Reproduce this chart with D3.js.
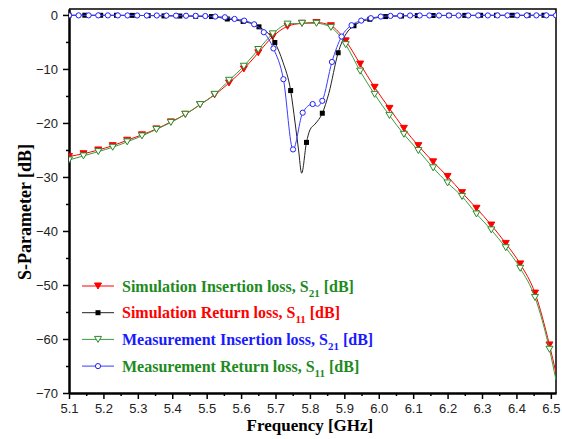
<!DOCTYPE html>
<html>
<head>
<meta charset="utf-8">
<script src="https://cdn.jsdelivr.net/npm/d3@7"></script>
<style>
  body { margin: 0; background: #fff; }
  svg { display: block; }
</style>
</head>
<body>
<div id="chart"></div>
<script>
// S21 (insertion loss) sampled on the marker grid, last point is the right edge
var s21Freq = [5.100, 5.142, 5.185, 5.227, 5.269, 5.312, 5.354, 5.396, 5.438, 5.481,
               5.523, 5.565, 5.608, 5.650, 5.692, 5.735, 5.777, 5.819, 5.861, 5.904,
               5.946, 5.988, 6.031, 6.073, 6.115, 6.158, 6.200, 6.242, 6.284, 6.327,
               6.369, 6.411, 6.454, 6.496, 6.515];
var s21Mark = [1,1,1,1,1,1,1,1,1,1, 1,1,1,1,1,1,1,1,1,1, 1,1,1,1,1,1,1,1,1,1, 1,1,1,1,0];
var simS21 = [-26.2, -25.7, -25.0, -24.2, -23.2, -22.2, -21.1, -19.8, -18.4, -16.6,
              -14.8, -12.6, -10.0, -7.0, -4.0, -2.1, -1.55, -1.4, -2.0, -4.8,
              -9.1, -13.4, -17.3, -21.0, -24.2, -27.2, -29.9, -32.9, -35.8, -38.9,
              -42.3, -46.1, -51.5, -61.1, -66.3];
var measS21 = [-26.85, -26.1, -25.3, -24.5, -23.5, -22.4, -21.2, -19.9, -18.4, -16.6,
               -14.7, -12.1, -9.5, -6.4, -3.5, -1.7, -1.55, -1.55, -2.3, -5.5,
               -10.4, -14.7, -18.6, -22.1, -25.1, -28.3, -31.1, -33.6, -36.85, -39.8,
               -43.1, -46.9, -52.3, -61.9, -67.6];

// simulated S11
var simS11Freq = [5.100, 5.146, 5.192, 5.238, 5.284, 5.330, 5.376, 5.422, 5.468, 5.514,
                  5.560, 5.606, 5.652, 5.698, 5.722, 5.744, 5.757, 5.767, 5.776, 5.790,
                  5.800, 5.815, 5.836, 5.855, 5.882, 5.905, 5.928, 5.974, 6.020, 6.066,
                  6.112, 6.158, 6.204, 6.250, 6.296, 6.342, 6.388, 6.434, 6.480, 6.515];
var simS11Mark = [1,1,1,1,1,1,1,1,1,1, 1,1,1,1,0,1,0,0,0,1,
                  0,0,1,0,1,0,1,1,1,1, 1,1,1,1,1,1,1,1,1,0];
var simS11 = [-0.05, -0.05, -0.06, -0.06, -0.08, -0.12, -0.18, -0.2, -0.25, -0.3,
              -0.75, -1.2, -2.2, -5.1, -8.8, -14.0, -20.0, -25.0, -29.3, -23.6,
              -21.3, -20.2, -18.2, -14.5, -7.0, -3.5, -2.0, -0.8, -0.3, -0.2,
              -0.12, -0.1, -0.08, -0.08, -0.06, -0.06, -0.06, -0.06, -0.06, -0.05];

// measured S11
var measS11Freq = [5.100, 5.128, 5.157, 5.185, 5.213, 5.242, 5.270, 5.298, 5.326, 5.355,
                   5.383, 5.411, 5.440, 5.468, 5.496, 5.525, 5.553, 5.581, 5.609, 5.638,
                   5.666, 5.694, 5.723, 5.751, 5.779, 5.808, 5.822, 5.836, 5.864, 5.892,
                   5.921, 5.949, 5.977, 6.006, 6.034, 6.062, 6.091, 6.119, 6.147, 6.175,
                   6.204, 6.232, 6.260, 6.289, 6.317, 6.345, 6.374, 6.402, 6.430, 6.458,
                   6.487, 6.515];
var measS11Mark = [1,1,1,1,1,1,1,1,1,1, 1,1,1,1,1,1,1,1,1,1, 1,1,1,1,1,1,0,1,1,1,
                   1,1,1,1,1,1,1,1,1,1, 1,1,1,1,1,1,1,1,1,1, 1,1];
var measS11 = [-0.08, -0.08, -0.08, -0.08, -0.08, -0.09, -0.09, -0.1, -0.1, -0.1,
               -0.12, -0.13, -0.15, -0.17, -0.2, -0.3, -0.43, -0.74, -1.05, -1.73,
               -3.2, -6.2, -11.9, -24.9, -18.1, -16.5, -16.9, -15.9, -8.7, -4.0,
               -1.9, -1.05, -0.6, -0.3, -0.18, -0.12, -0.1, -0.1, -0.1, -0.1,
               -0.1, -0.1, -0.1, -0.09, -0.09, -0.09, -0.08, -0.08, -0.08, -0.08,
               -0.08, -0.08];

var xTicks = [5.1, 5.2, 5.3, 5.4, 5.5, 5.6, 5.7, 5.8, 5.9, 6.0, 6.1, 6.2, 6.3, 6.4, 6.5];
var yTicks = [0, -10, -20, -30, -40, -50, -60, -70];

var legendText = ["Simulation Insertion loss, S", "Simulation Return loss, S",
                  "Measurement Insertion loss, S", "Measurement Return loss, S"];
var legendSub = ["21", "11", "21", "11"];

(function () {
    var W = 562, H = 439;
    var margin = {top: 9, right: 6, bottom: 46, left: 69},
        width = W - margin.left - margin.right,
        height = H - margin.top - margin.bottom;

    var svg = d3.select("#chart").append("svg")
        .attr("width", W)
        .attr("height", H);
    var g = svg.append("g")
        .attr("transform", "translate(" + margin.left + "," + margin.top + ")");

    var x = d3.scaleLinear().domain([5.1, 6.515]).range([0, width]),
        y = d3.scaleLinear().domain([-70, 1.1]).range([height, 0]);

    g.append("clipPath").attr("id", "clip")
        .append("rect").attr("width", width).attr("height", height);

    // axes, outward ticks with minor ticks in between
    var minorX = xTicks.slice(0, -1).map(d => d + 0.05);
    var minorY = yTicks.slice(0, -1).map(d => d - 5);

    function styleAxis(sel) {
        sel.select(".domain").attr("stroke", "#000").attr("stroke-width", 2);
        sel.selectAll(".tick line").attr("stroke", "#000").attr("stroke-width", 1.5);
        sel.selectAll("text").attr("fill", "#222")
            .style("font-family", "'Liberation Sans', Arial, sans-serif")
            .style("font-size", "13px");
    }

    g.append("g")
        .attr("transform", "translate(0," + height + ")")
        .call(d3.axisBottom(x).tickValues(minorX).tickSize(3).tickFormat("").tickSizeOuter(0))
        .call(styleAxis);
    g.append("g")
        .attr("transform", "translate(0," + height + ")")
        .call(d3.axisBottom(x).tickValues(xTicks).tickSize(6).tickPadding(5)
            .tickFormat(d3.format(".1f")).tickSizeOuter(0))
        .call(styleAxis);

    g.append("g")
        .call(d3.axisLeft(y).tickValues(minorY).tickSize(3).tickFormat("").tickSizeOuter(0))
        .call(styleAxis);
    g.append("g")
        .call(d3.axisLeft(y).tickValues(yTicks).tickSize(6).tickPadding(5)
            .tickFormat(d3.format("d")).tickSizeOuter(0))
        .call(styleAxis);

    // top and right frame
    g.append("path")
        .attr("d", "M0,0H" + width + "V" + height)
        .attr("fill", "none").attr("stroke", "#000").attr("stroke-width", 1.5);

    var series = [
        {f: s21Freq, v: simS21, m: s21Mark, color: "#ff0000", marker: "tri", fill: "#ff0000"},
        {f: simS11Freq, v: simS11, m: simS11Mark, color: "#222222", marker: "sq", fill: "#000"},
        {f: s21Freq, v: measS21, m: s21Mark, color: "#3c9c3c", marker: "tri", fill: "#fff"},
        {f: measS11Freq, v: measS11, m: measS11Mark, color: "#3b3bff", marker: "circ", fill: "#fff"}
    ];
    var markColor = ["#ff0000", "#000", "#2a8a2a", "#2020ff"];

    var line = d3.line()
        .curve(d3.curveMonotoneX)
        .x(d => x(d[0]))
        .y(d => y(d[1]));

    function drawMarker(sel, type, color, fill) {
        if (type === "tri") {
            sel.append("path").attr("d", "M-3.5,-3L3.5,-3L0,3Z")
                .attr("fill", fill).attr("stroke", color).attr("stroke-width", 1);
        } else if (type === "sq") {
            sel.append("rect").attr("x", -2.5).attr("y", -2.5)
                .attr("width", 5).attr("height", 5).attr("fill", fill);
        } else {
            sel.append("circle").attr("r", 2.6)
                .attr("fill", fill).attr("stroke", color).attr("stroke-width", 1);
        }
    }

    var plot = g.append("g").attr("clip-path", "url(#clip)");
    series.forEach(function (s, si) {
        var pts = s.f.map((f, i) => [f, s.v[i], s.m[i]]);
        plot.append("path")
            .attr("d", line(pts))
            .attr("fill", "none")
            .attr("stroke", s.color)
            .attr("stroke-width", 1);
        plot.selectAll(".mk" + si)
            .data(pts.filter(p => p[2]))
            .enter().append("g")
            .attr("class", "mk" + si)
            .attr("transform", d => "translate(" + x(d[0]) + "," + y(d[1]) + ")")
            .each(function () { drawMarker(d3.select(this), s.marker, markColor[si], s.fill); });
    });

    // legend
    var textColor = ["#1e8a1e", "#ff0000", "#1a1aff", "#1e8a1e"];
    var leg = svg.append("g").attr("transform", "translate(82,286)");
    legendText.forEach(function (t, i) {
        var row = leg.append("g").attr("transform", "translate(0," + (i * 26.7) + ")");
        row.append("line").attr("x1", 0).attr("x2", 32)
            .attr("stroke", series[i].color).attr("stroke-width", 1);
        var mk = row.append("g").attr("transform", "translate(16,0)");
        drawMarker(mk, series[i].marker, markColor[i], series[i].fill);
        var txt = row.append("text")
            .attr("x", 40).attr("y", 5.5)
            .attr("fill", textColor[i])
            .style("font-family", "'Liberation Serif', 'Times New Roman', serif")
            .style("font-weight", "bold")
            .style("font-size", "16px");
        txt.append("tspan").text(t);
        txt.append("tspan").attr("dy", 5).style("font-size", "11px").text(legendSub[i]);
        txt.append("tspan").attr("dy", -5).text(" [dB]");
    });

    // axis titles
    svg.append("text")
        .attr("x", margin.left + x(5.8)).attr("y", 431)
        .attr("text-anchor", "middle")
        .style("font-family", "'Liberation Serif', 'Times New Roman', serif")
        .style("font-weight", "bold").style("font-size", "17px")
        .text("Frequency [GHz]");
    svg.append("text")
        .attr("transform", "translate(31,212) rotate(-90)")
        .attr("text-anchor", "middle")
        .style("font-family", "'Liberation Serif', 'Times New Roman', serif")
        .style("font-weight", "bold").style("font-size", "18px")
        .text("S-Parameter [dB]");
})();
</script>
</body>
</html>
